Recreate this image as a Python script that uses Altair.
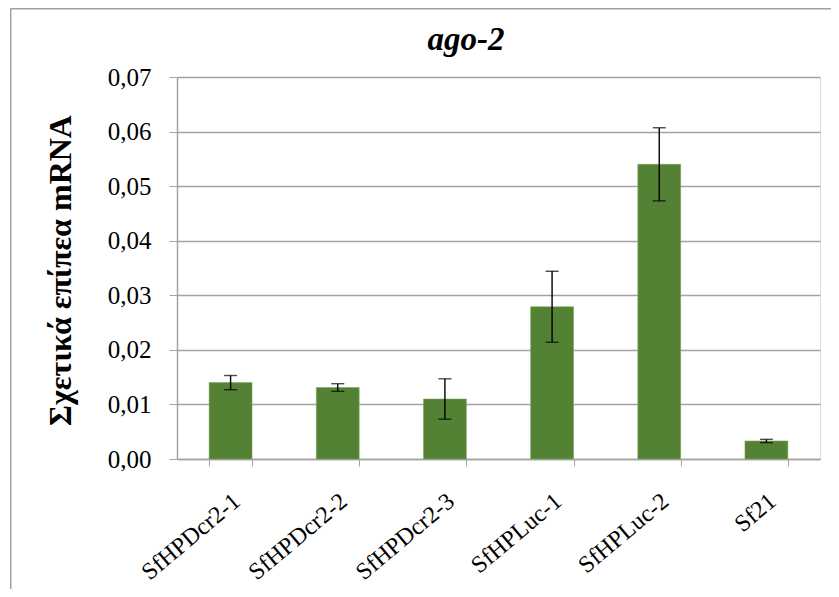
import altair as alt
import pandas as pd

title_text = ["ago-2"]
categories = ["SfHPDcr2-1", "SfHPDcr2-2", "SfHPDcr2-3", "SfHPLuc-1", "SfHPLuc-2", "Sf21"]
values = [0.0140, 0.0131, 0.0110, 0.0279, 0.0540, 0.0033]
errors = [0.0013, 0.0007, 0.0037, 0.0065, 0.0067, 0.0003]
y_ticks = [0.00, 0.01, 0.02, 0.03, 0.04, 0.05, 0.06, 0.07]

df = pd.DataFrame({"cat": categories, "val": values, "err": errors})

FONT = "Liberation Serif"
GRID = "#a3a3a3"
W, H = 643, 382
PL, PT, PR, PB = 169, 69, 11, 130

x = alt.X("cat:N", sort=categories, title=None,
          scale=alt.Scale(paddingInner=0.6, paddingOuter=0.3),
          axis=alt.Axis(labelAngle=-40, labelFont=FONT, labelFontSize=24,
                        labelColor="black", labelAlign="right", labelBaseline="middle",
                        labelPadding=32, labelOffset=6, tickBand="extent", tickSize=7,
                        tickColor=GRID, domainColor=GRID, domainWidth=1.5, grid=False,
                        labelLimit=300))

base = alt.Chart(df)

bars = base.mark_bar(color="#548235", stroke="#7fa35f", strokeWidth=0.6).encode(
    x=x,
    y=alt.Y("val:Q", title="Σχετικά επίπεα mRNA",
            scale=alt.Scale(domain=[0, 0.07], nice=False),
            axis=alt.Axis(values=y_ticks,
                          labelExpr="replace(format(datum.value, '.2f'), '.', ',')",
                          labelFont=FONT, labelFontSize=25, labelColor="black",
                          labelPadding=18, tickSize=8, tickColor=GRID,
                          domainColor=GRID, domainWidth=1.5,
                          gridColor=GRID, gridWidth=1.5,
                          titleFont=FONT, titleFontSize=32, titleFontWeight="bold",
                          titleColor="black", titleAngle=270, titleAlign="center",
                          titleBaseline="alphabetic", titleX=-107, titleY=193)),
)

err = base.transform_calculate(
    lo="datum.val - datum.err", hi="datum.val + datum.err"
)

rules = err.mark_rule(color="black", strokeWidth=1.4).encode(
    x=alt.X("cat:N", sort=categories), y="lo:Q", y2="hi:Q")
caps_hi = err.mark_tick(color="black", thickness=1.4, size=13).encode(
    x=alt.X("cat:N", sort=categories), y="hi:Q")
caps_lo = err.mark_tick(color="black", thickness=1.4, size=13).encode(
    x=alt.X("cat:N", sort=categories), y="lo:Q")

title_df = pd.DataFrame({"t": title_text})
title_mark = alt.Chart(title_df).mark_text(
    font=FONT, fontSize=33, fontStyle="italic", fontWeight="bold", color="black",
    align="center", baseline="alphabetic").encode(
    text="t:N", x=alt.value(289), y=alt.value(-27))

frame_df = pd.DataFrame({"k": [0]})
frame_top = alt.Chart(frame_df).mark_rule(color="#a0a0a0", strokeWidth=1.5).encode(
    x=alt.value(-PL + 2.5), x2=alt.value(W + PR), y=alt.value(-PT + 0.8))
frame_left = alt.Chart(frame_df).mark_rule(color="#a0a0a0", strokeWidth=1.5).encode(
    x=alt.value(-PL + 2.7), y=alt.value(-PT + 0.8), y2=alt.value(H + PB))

chart = alt.layer(bars, rules, caps_hi, caps_lo, title_mark, frame_top, frame_left).properties(
    width=W, height=H,
    padding={"left": PL, "top": PT, "right": PR, "bottom": PB},
    autosize=alt.AutoSizeParams(type="none"),
).configure_view(stroke=None).configure(background="white")

chart.save("out.html", embed_options={"renderer": "svg", "actions": False})
